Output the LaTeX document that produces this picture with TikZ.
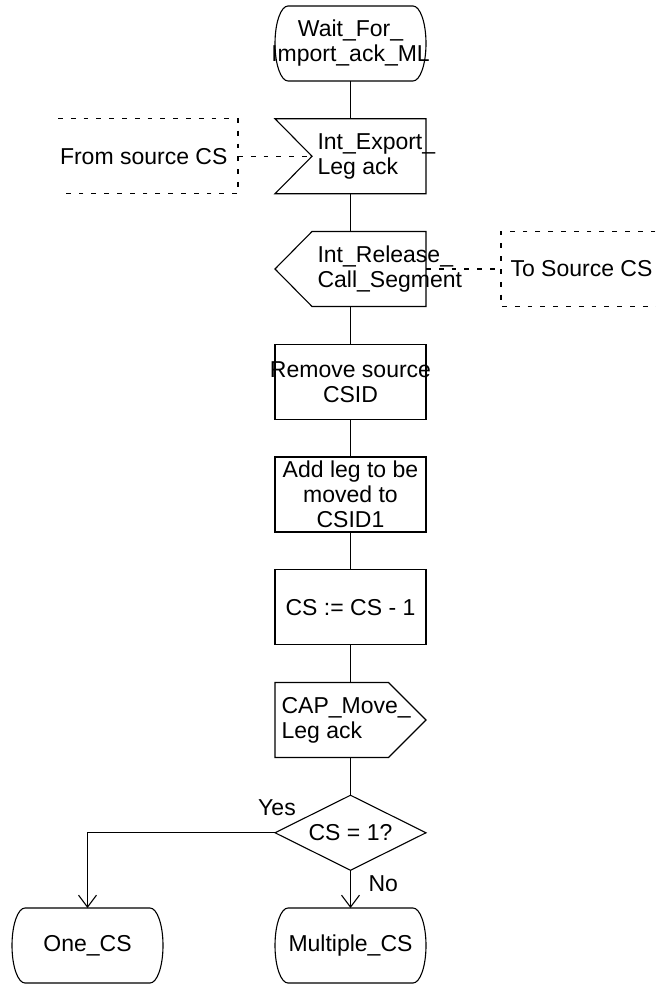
\documentclass[tikz,border=0pt]{standalone}
\usepackage{fontspec}
\setmainfont{Liberation Sans}
\usepackage{tikz}
\usetikzlibrary{arrows.meta,positioning,calc,shapes.geometric}

\begin{document}
\begin{tikzpicture}[
  font=\fontsize{11.5pt}{12.5pt}\selectfont, line width=0.55pt, >={Straight Barb[length=6pt,width=9pt]},
  node distance=18.875pt,
  txt/.style={align=center,inner sep=0pt},
  base/.style={minimum width=75.5pt,minimum height=37.5pt,inner sep=0pt,outer sep=0pt},
  task/.style={base,draw},
  state/.style={base,append after command={\pgfextra{\draw ($(\tikzlastnode.north west)+(6.5pt,0)$) -- ($(\tikzlastnode.north east)+(-6.5pt,0)$) arc[start angle=90,end angle=-90,x radius=6.5pt,y radius=18.75pt] -- ($(\tikzlastnode.south west)+(6.5pt,0)$) arc[start angle=270,end angle=90,x radius=6.5pt,y radius=18.75pt] -- cycle;}}},
  sigin/.style={base,append after command={\pgfextra{\draw (\tikzlastnode.north west) -- (\tikzlastnode.north east) -- (\tikzlastnode.south east) -- (\tikzlastnode.south west) -- ($(\tikzlastnode.west)+(18.5pt,0)$) -- cycle;}}},
  sigleft/.style={base,append after command={\pgfextra{\draw ($(\tikzlastnode.north west)+(18.5pt,0)$) -- (\tikzlastnode.north east) -- (\tikzlastnode.south east) -- ($(\tikzlastnode.south west)+(18.5pt,0)$) -- (\tikzlastnode.west) -- cycle;}}},
  sigright/.style={base,append after command={\pgfextra{\draw (\tikzlastnode.north west) -- ($(\tikzlastnode.north east)+(-18.75pt,0)$) -- (\tikzlastnode.east) -- ($(\tikzlastnode.south east)+(-18.75pt,0)$) -- (\tikzlastnode.south west) -- cycle;}}},
  decision/.style={base,draw,diamond,aspect=2},
  comment/.style={minimum width=90pt,minimum height=37.5pt,inner sep=0pt,outer sep=0pt},
  cmt/.style={dash pattern=on 2.4pt off 4pt}
]
\useasboundingbox (0,0) rectangle (328pt,-492pt);

% main column
\node[state,label={[txt]center:Wait\_For\_\\Import\_ack\_ML}] (s0) at (175.25pt,-21.75pt) {};
\node[sigin,below=of s0,label={[txt,align=left,anchor=west,xshift=21pt]west:Int\_Export\_\\Leg ack}] (in) {};
\node[sigleft,below=of in,label={[txt,align=left,anchor=west,xshift=21pt]west:Int\_Release\_\\Call\_Segment}] (out) {};
\node[task,below=of out,label={[txt]center:Remove source\\CSID}] (rm) {};
\node[task,below=of rm,label={[txt]center:Add leg to be\\moved to\\CSID1}] (add) {};
\node[task,below=of add,label={[txt]center:CS := CS - 1}] (dec1) {};
\node[sigright,below=of dec1,label={[txt,align=left,anchor=west,xshift=3pt]west:CAP\_Move\_\\Leg ack}] (cap) {};
\node[decision,below=of cap] (dec) {CS = 1?};
\node[state,below=of dec,label={[txt]center:Multiple\_CS}] (ms) {};
\node[state,left=56pt of ms,label={[txt]center:One\_CS}] (one) {};

% comments
\node[comment,left=18.5pt of in,label={[txt,anchor=east,xshift=-5pt]east:From source CS}] (cin) {};
\node[comment,right=37.5pt of out,label={[txt,anchor=west,xshift=4.5pt]west:To Source CS}] (cout) {};
\draw[cmt] (cin.north west) -- (cin.north east) -- (cin.south east) -- (cin.south west);
\draw[cmt] (cout.north east) -- (cout.north west) -- (cout.south west) -- (cout.south east);
\draw[cmt] (cin.east) -- ([xshift=18.5pt]in.west);
\draw[cmt] (out.east) -- (cout.west);

\draw (s0) -- (in);
\draw (in) -- (out);
\draw (out) -- (rm);
\draw (rm) -- (add);
\draw (add) -- (dec1);
\draw (dec1) -- (cap);
\draw (cap) -- (dec);
\draw[->] (dec.west) -| (one);
\draw[->] (dec) -- (ms);
\node[txt,anchor=base] (yes) at ([shift={(1pt,8.5pt)}]dec.west) {Yes};
\node[txt,anchor=base west] (no) at ([shift={(8.75pt,-10.6pt)}]dec.south) {No};
\end{tikzpicture}
\end{document}
